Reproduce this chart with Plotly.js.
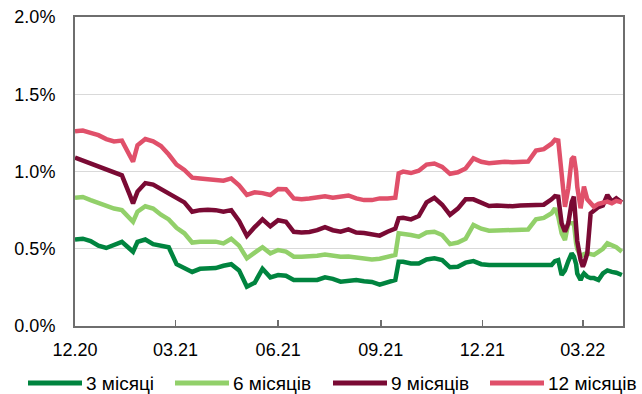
<!DOCTYPE html>
<html>
<head>
<meta charset="utf-8">
<script src="https://cdn.plot.ly/plotly-3.0.1.min.js"></script>
<style>html,body{margin:0;padding:0;background:#fff;}#chart{width:642px;height:394px;}</style>
</head>
<body>
<div id="chart"></div>
<script>
const dates = [
'2020-12-01','2020-12-08','2020-12-15','2020-12-22','2020-12-29','2021-01-05','2021-01-12','2021-01-19','2021-01-22','2021-01-26',
'2021-02-02','2021-02-09','2021-02-16','2021-02-23','2021-03-02','2021-03-09','2021-03-16','2021-03-23','2021-03-30','2021-04-06',
'2021-04-13','2021-04-20','2021-04-27','2021-05-04','2021-05-11','2021-05-18','2021-05-25','2021-06-01','2021-06-08','2021-06-15',
'2021-06-22','2021-06-29','2021-07-06','2021-07-13','2021-07-20','2021-07-27','2021-08-03','2021-08-10','2021-08-17','2021-08-24',
'2021-08-31','2021-09-07','2021-09-14','2021-09-17','2021-09-21','2021-09-28','2021-10-05','2021-10-12','2021-10-19','2021-10-26',
'2021-11-02','2021-11-09','2021-11-16','2021-11-23','2021-11-30','2021-12-07','2021-12-14','2021-12-21','2021-12-28','2022-01-04',
'2022-01-11','2022-01-18','2022-01-25','2022-02-01','2022-02-04','2022-02-07','2022-02-10','2022-02-13','2022-02-16','2022-02-19',
'2022-02-21','2022-02-23','2022-02-24','2022-02-27','2022-03-01','2022-03-02','2022-03-05','2022-03-08','2022-03-11','2022-03-15',
'2022-03-19','2022-03-23','2022-03-27','2022-03-31','2022-04-05'
];
const m12 = [
1.26,1.265,1.25,1.235,1.21,1.195,1.2,1.1,1.063,1.17,
1.21,1.195,1.165,1.11,1.045,1.01,0.96,0.955,0.95,0.945,
0.94,0.955,0.91,0.848,0.865,0.86,0.848,0.887,0.885,0.826,
0.82,0.825,0.83,0.84,0.83,0.835,0.845,0.826,0.815,0.815,
0.826,0.826,0.83,0.988,0.999,0.99,1.005,1.045,1.052,1.03,
0.985,0.995,1.02,1.085,1.063,1.053,1.058,1.063,1.06,1.06,
1.065,1.135,1.145,1.18,1.205,1.2,0.945,0.772,0.891,1.08,
1.096,1.0,0.902,0.762,0.85,0.902,0.82,0.79,0.772,0.79,
0.80,0.805,0.794,0.81,0.80
];
const m9 = [
1.09,1.07,1.05,1.03,1.01,0.99,0.975,0.85,0.794,0.87,
0.925,0.915,0.885,0.855,0.826,0.80,0.74,0.75,0.752,0.75,
0.74,0.75,0.68,0.583,0.64,0.69,0.645,0.685,0.675,0.61,
0.605,0.608,0.62,0.64,0.62,0.61,0.625,0.605,0.602,0.59,
0.585,0.61,0.63,0.697,0.70,0.69,0.712,0.80,0.83,0.785,
0.72,0.76,0.82,0.82,0.80,0.777,0.78,0.775,0.775,0.78,
0.78,0.78,0.785,0.82,0.84,0.837,0.665,0.61,0.665,0.80,
0.837,0.643,0.55,0.427,0.384,0.40,0.47,0.729,0.75,0.77,
0.78,0.848,0.805,0.826,0.80
];
const m6 = [
0.83,0.835,0.815,0.795,0.775,0.76,0.75,0.70,0.675,0.74,
0.775,0.76,0.72,0.69,0.635,0.60,0.54,0.545,0.546,0.546,
0.535,0.565,0.52,0.438,0.475,0.51,0.47,0.492,0.482,0.449,
0.449,0.449,0.455,0.462,0.455,0.449,0.45,0.445,0.44,0.43,
0.435,0.445,0.46,0.60,0.598,0.589,0.578,0.605,0.61,0.589,
0.53,0.54,0.565,0.654,0.63,0.617,0.618,0.62,0.62,0.62,
0.625,0.69,0.70,0.73,0.762,0.707,0.60,0.557,0.665,0.665,
0.665,0.535,0.50,0.449,0.46,0.465,0.47,0.465,0.46,0.48,
0.50,0.535,0.524,0.51,0.481
];
const m3 = [
0.56,0.565,0.55,0.52,0.505,0.525,0.545,0.50,0.481,0.545,
0.56,0.53,0.518,0.51,0.40,0.375,0.35,0.37,0.373,0.375,
0.39,0.40,0.36,0.254,0.28,0.37,0.315,0.33,0.325,0.298,
0.298,0.298,0.298,0.315,0.305,0.287,0.29,0.298,0.29,0.285,
0.268,0.28,0.298,0.416,0.416,0.405,0.405,0.431,0.438,0.427,
0.38,0.383,0.41,0.42,0.40,0.395,0.395,0.395,0.395,0.395,
0.395,0.395,0.395,0.395,0.42,0.427,0.33,0.36,0.42,0.47,
0.45,0.40,0.34,0.298,0.33,0.34,0.319,0.31,0.31,0.298,
0.34,0.36,0.35,0.345,0.33
];
const seriesNames = ['3 місяці','6 місяців','9 місяців','12 місяців'];
const seriesColors = ['#00843f','#92d06a','#7a0a34','#e0506a'];
const seriesValues = [m3, m6, m9, m12];
const tickVals = ['2020-12-01','2021-03-01','2021-06-01','2021-09-01','2021-12-01','2022-03-01'];
const tickText = ['12.20','03.21','06.21','09.21','12.21','03.22'];
const yTickVals = [0,0.5,1.0,1.5,2.0];
const yTickText = ['0.0%','0.5%','1.0%','1.5%','2.0%'];

const traces = seriesValues.map((v,i)=>({
  x: dates, y: v, type:'scatter', mode:'lines', name: seriesNames[i],
  line:{color: seriesColors[i], width:4.5}, showlegend:false
}));

// manual legend (paper coordinates): plot area spans px 75..623 horizontally, 17..326 vertically
const L = 75, W = 548, T = 17, H = 309;
const px = v => (v - L) / W;
const py = v => (T + H - v) / H;
const legLineStart = [28, 175, 333, 490];
const legLineLen = 54;
const legY = 383;
const shapes = [], annotations = [];
seriesNames.forEach((n,i)=>{
  shapes.push({type:'line', xref:'paper', yref:'paper',
    x0:px(legLineStart[i]), x1:px(legLineStart[i]+legLineLen), y0:py(legY), y1:py(legY),
    line:{color:seriesColors[i], width:5}});
  annotations.push({xref:'paper', yref:'paper', x:px(legLineStart[i]+legLineLen+2), y:py(legY),
    xanchor:'left', yanchor:'middle', text:n, showarrow:false,
    font:{family:'"Liberation Sans", Arial, sans-serif', size:19, color:'#000'}});
});

const font = {family:'"Liberation Sans", Arial, sans-serif', size:18, color:'#000'};
const layout = {
  width:642, height:394,
  margin:{l:75, r:19, t:17, b:68, autoexpand:false},
  paper_bgcolor:'#fff', plot_bgcolor:'#fff',
  font: font,
  showlegend:false,
  shapes: shapes, annotations: annotations,
  xaxis:{type:'date', range:['2020-12-01','2022-04-06'], tickmode:'array', tickvals:tickVals, ticktext:tickText,
    ticks:'inside', ticklen:6, tickwidth:1.5, tickcolor:'#6e6e6e',
    showline:true, linecolor:'#6e6e6e', linewidth:2, mirror:true, showgrid:false, zeroline:false,
    tickfont:{family:font.family, size:18, color:'#000'}, ticklabelstandoff:6},
  yaxis:{range:[0,2.0], tickmode:'array', tickvals:yTickVals, ticktext:yTickText,
    ticks:'', showline:true, linecolor:'#6e6e6e', linewidth:2, mirror:true,
    showgrid:true, gridcolor:'#d9d9d9', gridwidth:1, zeroline:false,
    tickfont:{family:font.family, size:18, color:'#000'}, ticklabelstandoff:14}
};
Plotly.newPlot('chart', traces, layout, {staticPlot:true, displayModeBar:false});
</script>
</body>
</html>
